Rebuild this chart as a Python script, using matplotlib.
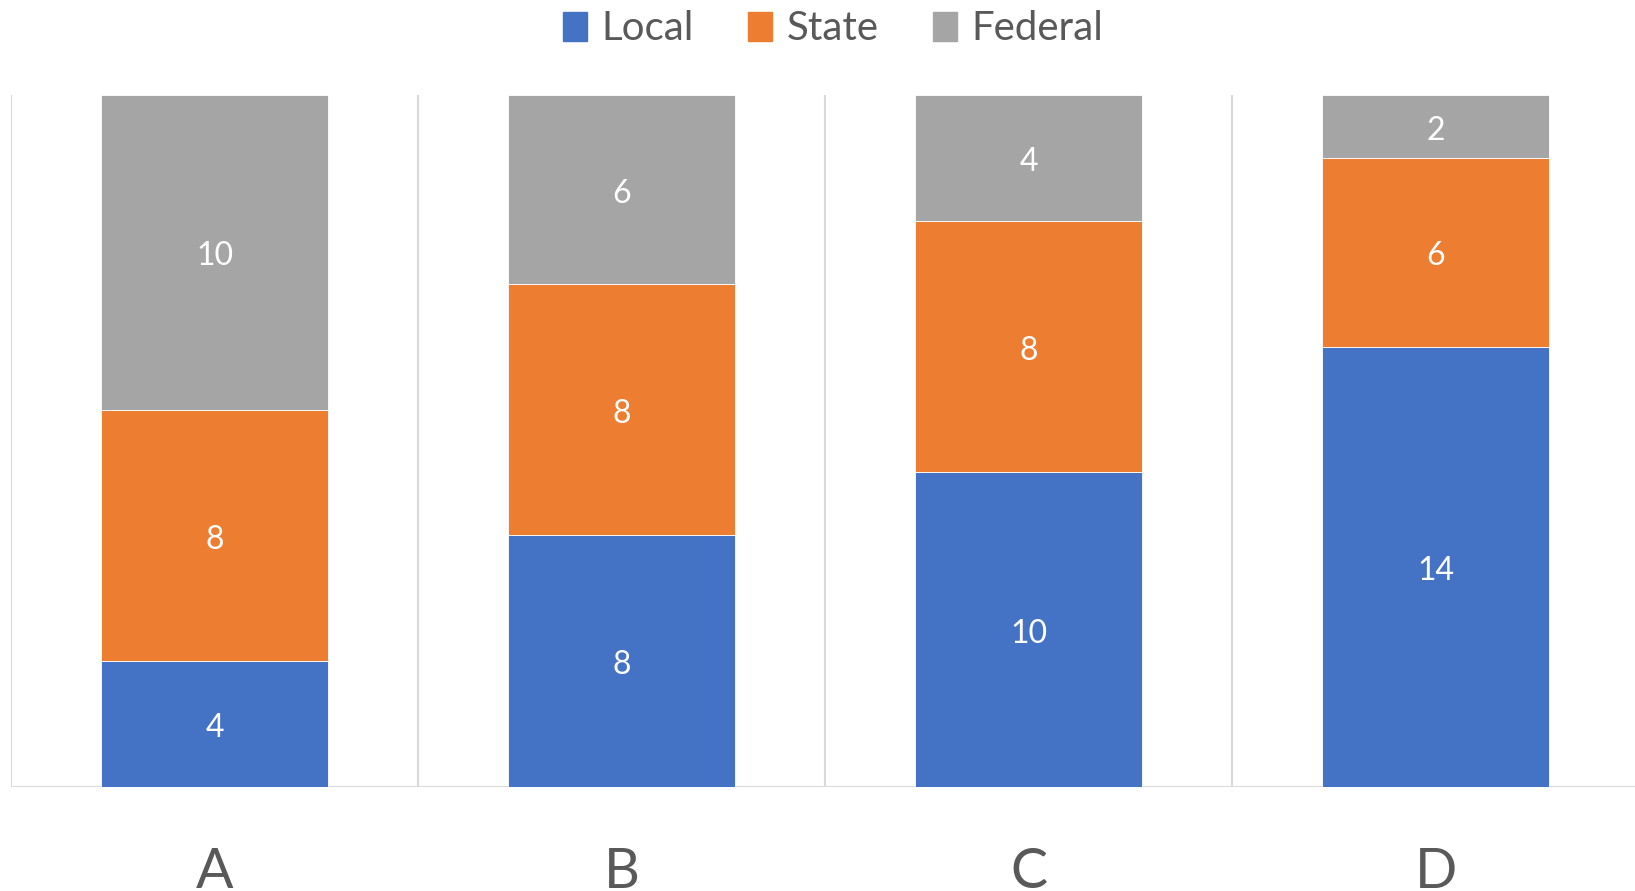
import numpy as np
import matplotlib
matplotlib.use("Agg")
import matplotlib.pyplot as plt
import matplotlib.patches as mpatches

plt.rcParams['font.family'] = ['Lato', 'DejaVu Sans']

categories = ["A", "B", "C", "D"]
local = [4, 8, 10, 14]
state = [8, 8, 8, 6]
federal = [10, 6, 4, 2]

series_names = ["Local", "State", "Federal"]
colors = ["#4472C4", "#ED7D31", "#A5A5A5"]
text_grey = "#595959"
grid_grey = "#D9D9D9"

fig = plt.figure(figsize=(16.35, 8.91), dpi=100)
ax = fig.add_axes([11 / 1635, 1 - 787 / 891, 1628 / 1635, 692 / 891])

x = np.arange(len(categories))
bottom = np.zeros(len(categories))
for name, vals, col in zip(series_names, [local, state, federal], colors):
    bars = ax.bar(x, vals, width=0.56, bottom=bottom, color=col,
                  edgecolor="white", linewidth=0.6, label=name, zorder=3)
    for rect, v in zip(bars, vals):
        ax.annotate(str(v),
                    (rect.get_x() + rect.get_width() / 2,
                     rect.get_y() + rect.get_height() / 2),
                    xytext=(0, -3), textcoords="offset points",
                    ha="center", va="center", color="white", fontsize=23,
                    zorder=4)
    bottom += np.array(vals)

ax.set_xlim(-0.5, 3.5)
ax.set_ylim(0, 22)

# vertical separators between categories
for b in np.arange(-0.5, 4.0, 1.0):
    ax.axvline(b, color=grid_grey, linewidth=1.5, zorder=1)

for s in ax.spines.values():
    s.set_visible(False)
ax.axhline(0, color=grid_grey, linewidth=1.5, zorder=2)

ax.set_yticks([])
ax.set_xticks(x)
ax.set_xticklabels(categories, fontsize=40, color=text_grey)
ax.tick_params(axis="x", length=0, pad=43)

handles = [mpatches.Patch(color=c, label=n) for c, n in zip(colors, series_names)]
fig.legend(handles=handles, loc="center", bbox_to_anchor=(0.5095, 1 - 29 / 891),
           ncol=3, frameon=False, fontsize=29, labelcolor=text_grey,
           handlelength=0.6, handleheight=0.7, handletextpad=0.35,
           columnspacing=1.35)

fig.savefig("out.png", dpi=100)
